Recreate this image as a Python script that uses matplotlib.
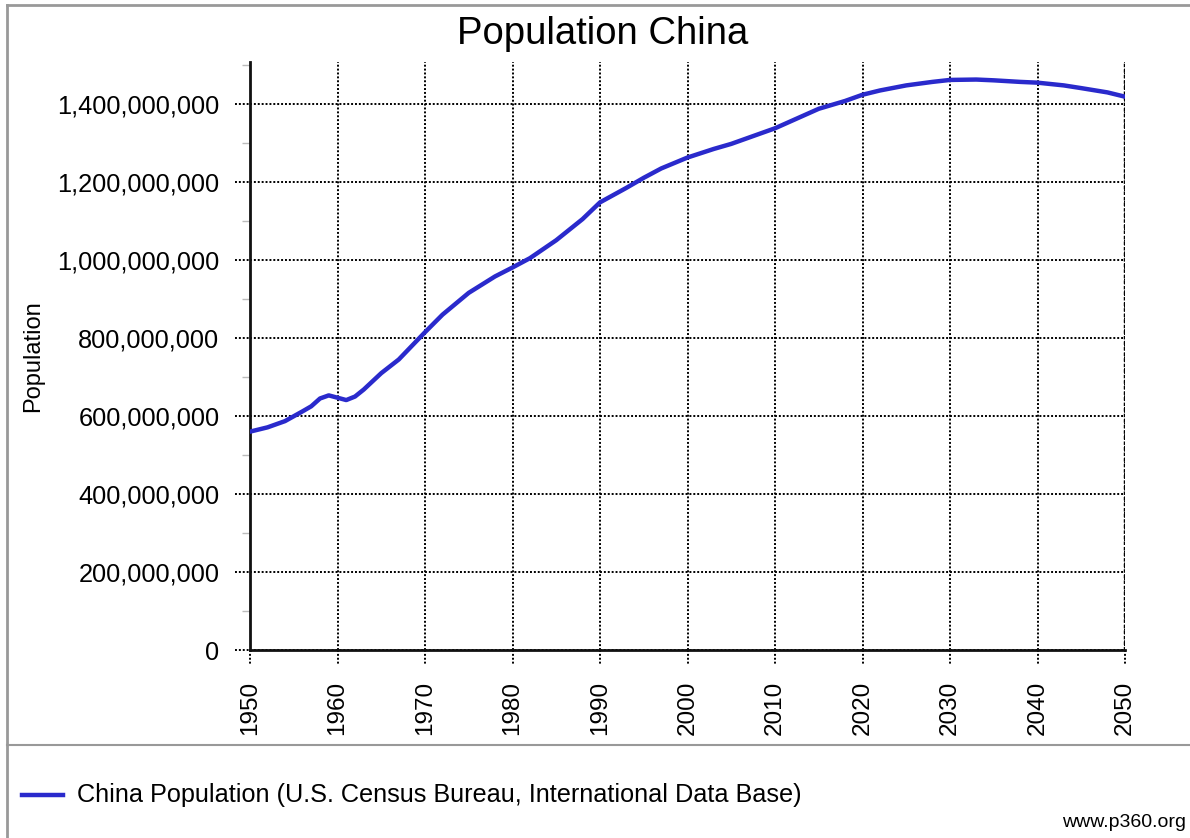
import matplotlib
matplotlib.use("Agg")
import matplotlib.pyplot as plt
from matplotlib.ticker import FuncFormatter, MultipleLocator
from matplotlib.lines import Line2D
import matplotlib.transforms as mtrans

plt.rcParams['font.family'] = ['Liberation Sans', 'DejaVu Sans']

years = [1950, 1952, 1954, 1956, 1957, 1958, 1959, 1960, 1961, 1962, 1963, 1965,
         1967, 1970, 1972, 1975, 1978, 1980, 1982, 1985, 1988, 1990, 1993, 1995,
         1997, 2000, 2003, 2005, 2008, 2010, 2013, 2015, 2018, 2020, 2022, 2025,
         2028, 2030, 2033, 2035, 2038, 2040, 2043, 2045, 2048, 2050]
population = [560e6, 571e6, 587e6, 612e6, 625e6, 645e6, 653e6, 647e6, 641e6, 650e6,
              668e6, 710e6, 745e6, 815e6, 860e6, 916e6, 958e6, 981e6, 1005e6, 1051e6,
              1105e6, 1148e6, 1185e6, 1211e6, 1235e6, 1263e6, 1285e6, 1298e6, 1322e6,
              1338e6, 1368e6, 1388e6, 1408e6, 1424e6, 1435e6, 1448e6, 1457e6, 1462e6,
              1463e6, 1461e6, 1457e6, 1455e6, 1448e6, 1441e6, 1430e6, 1419e6]

x_ticks = list(range(1950, 2051, 10))
y_ticks = list(range(0, 1400000001, 200000000))
title = "Population China"
y_label = "Population"
legend_label = "China Population (U.S. Census Bureau, International Data Base)"
credit = "www.p360.org"

fig = plt.figure(figsize=(11.9, 8.38), dpi=100)
ax = fig.add_axes([250/1190, 1-650/838, (1125-250)/1190, (650-62)/838])

ax.plot(years, population, color='#2a2acc', lw=3.2, solid_capstyle='round',
        solid_joinstyle='round', zorder=3)

ax.set_xlim(1950, 2050)
ax.set_ylim(0, 1508e6)
ax.set_xticks(x_ticks)
ax.set_yticks(y_ticks)
ax.yaxis.set_minor_locator(MultipleLocator(100e6))
ax.yaxis.set_major_formatter(FuncFormatter(lambda v, p: f"{int(v):,}"))
ax.tick_params(axis='x', which='major', length=0, pad=22, labelsize=17.5, rotation=90)
ax.tick_params(axis='y', which='major', length=0, pad=22, labelsize=18.3)
ax.tick_params(axis='y', which='minor', length=6, color='#bbbbbb', width=1)

dot = (0, (1, 1))
ax.grid(True, which='major', color='black', linestyle=dot, lw=1.4)
ax.set_axisbelow(True)

for s in ['top', 'right']:
    ax.spines[s].set_visible(False)
for s in ['left', 'bottom']:
    ax.spines[s].set_linewidth(2)
    ax.spines[s].set_color('#111111')

# dotted tick extensions beyond the axes
bt = mtrans.blended_transform_factory(ax.transData, ax.transAxes)
for xt in x_ticks:
    ax.add_line(Line2D([xt, xt], [0, -15/588], transform=bt, color='black',
                       linestyle=dot, lw=1.4, clip_on=False))
lt = mtrans.blended_transform_factory(ax.transAxes, ax.transData)
for yt in y_ticks:
    ax.add_line(Line2D([-15/875, 0], [yt, yt], transform=lt, color='black',
                       linestyle=dot, lw=1.4, clip_on=False))
# heavier right edge at 2050
ax.axvline(2050, color='black', linestyle=(0, (1, 0.6)), lw=2.5, zorder=2)

ax.set_ylabel(y_label, fontsize=17)
ax.yaxis.set_label_coords(-206/875, 0.5)

fig.text(603/1190, 1-34/838, title, ha='center', va='center', fontsize=27.5)

# frame lines
fig.add_artist(Line2D([7/1190, 1], [1-5/838, 1-5/838], color='#999999', lw=2))
fig.add_artist(Line2D([7/1190, 7/1190], [0, 1-5/838], color='#999999', lw=2))
fig.add_artist(Line2D([7/1190, 1], [1-745/838, 1-745/838], color='#999999', lw=1.5))

# legend
fig.add_artist(Line2D([22/1190, 63/1190], [1-795/838, 1-795/838], color='#2a2acc', lw=3.2))
fig.text(77/1190, 1-795/838, legend_label, ha='left', va='center', fontsize=18.2)
fig.text(1062/1190, 1-822/838, credit, ha='left', va='center', fontsize=14)

fig.savefig("out.png", dpi=100)
